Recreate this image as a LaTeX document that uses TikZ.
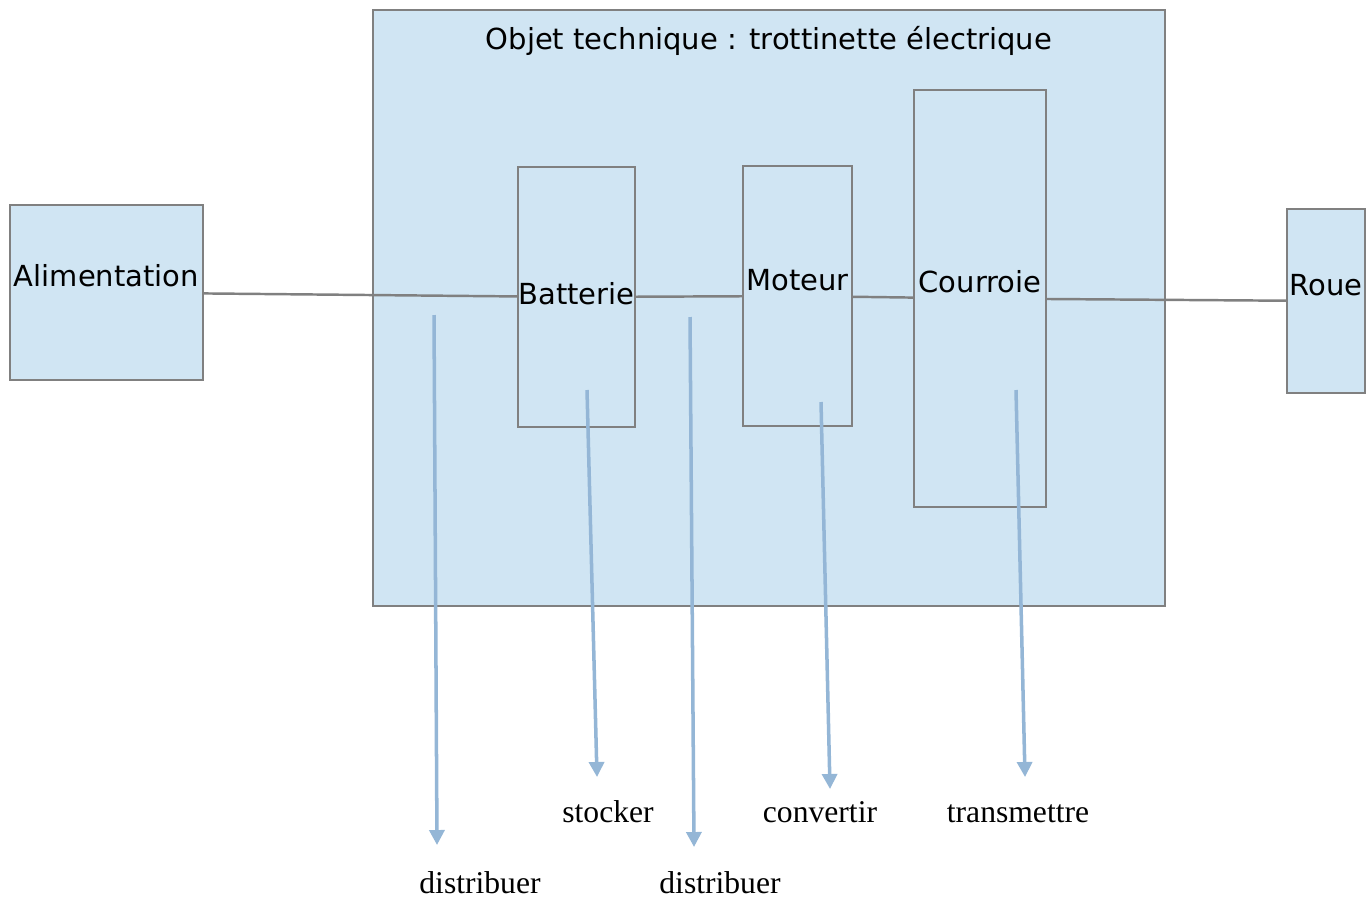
\documentclass[tikz,border=0pt]{standalone}
\usepackage{fontspec}
\setmainfont{Liberation Serif}
\setsansfont{DejaVu Sans}
\usetikzlibrary{arrows.meta}
\definecolor{boxFill}{RGB}{208,229,243}
\definecolor{boxLine}{RGB}{128,128,128}
\definecolor{arrowBlue}{RGB}{148,182,214}

\begin{document}
\begin{tikzpicture}[x=0.02cm, y=-0.02cm,
  bloc/.style={draw=boxLine, fill=boxFill, line width=1.4pt, inner sep=0pt},
  nom/.style={font=\sffamily\fontsize{16.5}{20}\selectfont, inner sep=0pt},
  fonction/.style={font=\fontsize{18}{22}\selectfont, anchor=base, inner sep=0pt},
  lien/.style={draw=boxLine, line width=1.4pt},
  fleche/.style={draw=arrowBlue, line width=2pt, -{Triangle[width=0.3cm,length=0.3cm]}}]
\useasboundingbox (0,0) rectangle (1371,903);

% Technical object
\node[bloc, minimum width=15.84cm, minimum height=11.92cm] (objet) at (769,308) {};
\node[nom] (titre) at (769,41) {Objet technique : trottinette électrique};

% Blocks
\foreach \id/\x/\y/\w/\h/\ty/\txt in {alim/106.5/292.5/3.86/3.5/276/Alimentation,
    batt/576.5/297/2.34/5.2/294/Batterie,
    moteur/797.5/296/2.18/5.2/280/Moteur,
    courroie/980/298.5/2.64/8.34/282/Courroie,
    roue/1326/301/1.56/3.68/285/Roue} {
  \node[bloc, minimum width=\w cm, minimum height=\h cm] (\id) at (\x,\y) {};
  \node[nom] (\id-txt) at (\x,\ty) {\txt};
}

% Links
\draw[lien] (alim) -- (batt);
\draw[lien] (batt) -- (moteur);
\draw[lien] (moteur) -- (courroie);
\draw[lien] (courroie) -- (roue);

% Functions
\node[fonction] (distribuer1) at (480,893) {distribuer};
\node[fonction] (stocker) at (608,822) {stocker};
\node[fonction] (distribuer2) at (720,893) {distribuer};
\node[fonction] (convertir) at (820,822) {convertir};
\node[fonction] (transmettre) at (1018,822) {transmettre};

\foreach \i/\xa/\ya/\xb/\yb in {1/434/315/437/845, 2/587/390/597/777, 3/690/317/694/847,
    4/821/402/830/789, 5/1016/390/1025/777} {
  \coordinate (from\i) at (\xa,\ya);
  \coordinate (to\i) at (\xb,\yb);
  \draw[fleche] (from\i) -- (to\i);
}
\end{tikzpicture}
\end{document}
